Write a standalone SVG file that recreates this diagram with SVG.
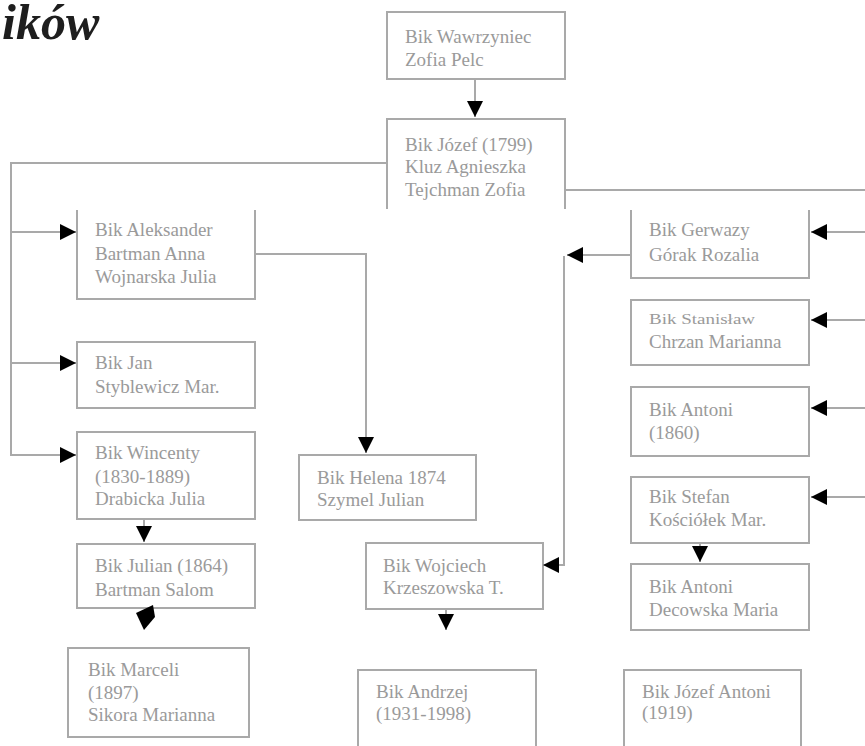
<svg xmlns="http://www.w3.org/2000/svg" width="865" height="746" viewBox="0 0 865 746">
<style>
.box{fill:#fff;stroke:#a9a9a9;stroke-width:2}
.side{fill:none;stroke:#a9a9a9;stroke-width:2}
.t{font-family:"Liberation Serif","Times New Roman",serif;font-size:19px;fill:#9a9a9a}
.c{fill:none;stroke:#a9a9a9;stroke-width:2}
.title{font-family:"Liberation Serif","Times New Roman",serif;font-size:50px;font-weight:bold;font-style:italic;fill:#1e1e1e}
</style>
<defs>
<marker id="ah" markerUnits="userSpaceOnUse" viewBox="0 0 16 16" markerWidth="16" markerHeight="16" refX="16" refY="8" orient="auto">
<path d="M0,0 L16,8 L0,16 z" fill="#000"/>
</marker>
</defs>
<rect width="865" height="746" fill="#fff"/>
<text class="title" x="2" y="39">ików</text>

<g id="n1"><rect class="box" x="387" y="12" width="178" height="67"/>
<text class="t" x="405" y="43">Bik Wawrzyniec</text><text class="t" x="405" y="66">Zofia Pelc</text></g>

<g id="n2"><path class="side" d="M387,209 V119 H565 V209"/>
<text class="t" x="405" y="151">Bik Józef (1799)</text><text class="t" x="405" y="173">Kluz Agnieszka</text><text class="t" x="405" y="196">Tejchman Zofia</text></g>

<g id="n3"><path class="side" d="M77,210 V299 H255 V210"/>
<text class="t" x="95" y="236">Bik Aleksander</text><text class="t" x="95" y="260">Bartman Anna</text><text class="t" x="95" y="283">Wojnarska Julia</text></g>

<g id="n4"><rect class="box" x="77" y="342" width="178" height="66"/>
<text class="t" x="95" y="369">Bik Jan</text><text class="t" x="95" y="393">Styblewicz Mar.</text></g>

<g id="n5"><rect class="box" x="77" y="432" width="178" height="87"/>
<text class="t" x="95" y="459">Bik Wincenty</text><text class="t" x="95" y="483">(1830-1889)</text><text class="t" x="95" y="505">Drabicka Julia</text></g>

<g id="n6"><rect class="box" x="77" y="544" width="178" height="64"/>
<text class="t" x="95" y="572">Bik Julian (1864)</text><text class="t" x="95" y="596">Bartman Salom</text></g>

<g id="n7"><rect class="box" x="68" y="648" width="181" height="89"/>
<text class="t" x="88" y="676">Bik Marceli</text><text class="t" x="88" y="699">(1897)</text><text class="t" x="88" y="721">Sikora Marianna</text></g>

<g id="n8"><rect class="box" x="299" y="455" width="177" height="65"/>
<text class="t" x="317" y="484">Bik Helena 1874</text><text class="t" x="317" y="506">Szymel Julian</text></g>

<g id="n9"><rect class="box" x="366" y="543" width="177" height="66"/>
<text class="t" x="383" y="572">Bik Wojciech</text><text class="t" x="383" y="594">Krzeszowska T.</text></g>

<g id="n10"><path class="side" d="M358,746 V670 H536 V746"/>
<text class="t" x="376" y="698">Bik Andrzej</text><text class="t" x="376" y="720">(1931-1998)</text></g>

<g id="n11"><path class="side" d="M631,210 V278 H809 V210"/>
<text class="t" x="649" y="236">Bik Gerwazy</text><text class="t" x="649" y="261">Górak Rozalia</text></g>

<g id="n12"><rect class="box" x="631" y="300" width="178" height="65"/>
<text class="t" transform="translate(649,324) scale(1,0.72)">Bik Stanisław</text><text class="t" x="649" y="348">Chrzan Marianna</text></g>

<g id="n13"><rect class="box" x="631" y="387" width="178" height="69"/>
<text class="t" x="649" y="416">Bik Antoni</text><text class="t" x="649" y="439">(1860)</text></g>

<g id="n14"><rect class="box" x="631" y="477" width="178" height="66"/>
<text class="t" x="649" y="503">Bik Stefan</text><text class="t" x="649" y="526">Kościółek Mar.</text></g>

<g id="n15"><rect class="box" x="631" y="564" width="178" height="66"/>
<text class="t" x="649" y="593">Bik Antoni</text><text class="t" x="649" y="616">Decowska Maria</text></g>

<g id="n16"><path class="side" d="M624,746 V670 H801 V746"/>
<text class="t" x="642" y="698">Bik Józef Antoni</text><text class="t" x="642" y="719">(1919)</text></g>

<g id="connectors">
<path class="c" d="M475,80 V117" marker-end="url(#ah)"/>
<path class="c" d="M387,163 H11 V455 H76" marker-end="url(#ah)"/>
<path class="c" d="M11,232 H76" marker-end="url(#ah)"/>
<path class="c" d="M11,363 H76" marker-end="url(#ah)"/>
<path class="c" d="M255,254 H366 V453" marker-end="url(#ah)"/>
<path class="c" d="M565,190 H865"/>
<path class="c" d="M865,232 H811" marker-end="url(#ah)"/>
<path class="c" d="M865,320 H811" marker-end="url(#ah)"/>
<path class="c" d="M865,408 H811" marker-end="url(#ah)"/>
<path class="c" d="M865,497 H811" marker-end="url(#ah)"/>
<path class="c" d="M631,255 H567" marker-end="url(#ah)"/>
<path class="c" d="M564,256 V565 H543" marker-end="url(#ah)"/>
<path class="c" d="M144,520 V542" marker-end="url(#ah)"/>
<path class="c" d="M446,610 V630" marker-end="url(#ah)"/>
<path class="c" d="M700,544 V562" marker-end="url(#ah)"/>
<polygon points="136,613 153,605 155,617 144,630" fill="#000"/>
</g>
</svg>
